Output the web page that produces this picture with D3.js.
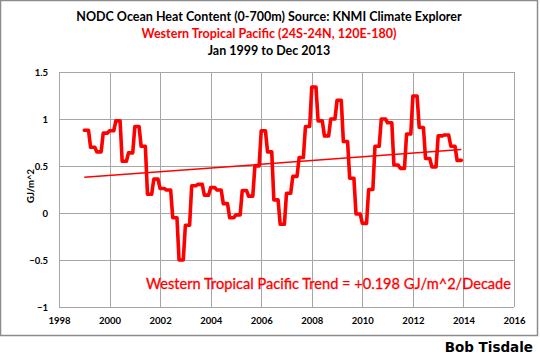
<!DOCTYPE html>
<html>
<head>
<meta charset="utf-8">
<script src="https://cdn.jsdelivr.net/npm/d3@7"></script>
<style>
  html, body { margin: 0; padding: 0; background: #fff; }
  svg { display: block; }
</style>
</head>
<body>
<svg id="chart" width="540" height="359"></svg>
<script>
// ---- Data (quarterly NODC OHC 0-700m, Western Tropical Pacific, GJ/m^2) ----
const years = [1999, 2000, 2001, 2002, 2003, 2004, 2005, 2006, 2007, 2008, 2009, 2010, 2011, 2012, 2013];
const quarterlyValues = [
  0.88, 0.70, 0.65, 0.85,
  0.875, 0.98, 0.55, 0.64,
  0.92, 0.71, 0.20, 0.36,
  0.26, 0.245, -0.05, -0.50,
  -0.13, 0.29, 0.305, 0.19,
  0.27, 0.245, 0.10, -0.05,
  -0.02, 0.24, 0.18, 0.50,
  0.875, 0.65, 0.14, -0.12,
  0.21, 0.39, 0.59, 0.92,
  1.34, 0.98, 0.82, 1.00,
  1.20, 0.76, 0.37, -0.01,
  -0.11, 0.25, 0.71, 1.00,
  0.96, 0.51, 0.475, 0.84,
  1.245, 0.91, 0.58, 0.49,
  0.82, 0.83, 0.71, 0.56
];
const trendDates = [1999.0, 2013 + 11 / 12];
const trendValues = [0.38, 0.675];
const xTicks = [1998, 2000, 2002, 2004, 2006, 2008, 2010, 2012, 2014, 2016];
const yTicks = [-1, -0.5, 0, 0.5, 1, 1.5];
const titleLines = [
  "NODC Ocean Heat Content (0-700m) Source: KNMI Climate Explorer",
  "Western Tropical Pacific (24S-24N, 120E-180)",
  "Jan 1999 to Dec 2013"
];
const trendLabel = "Western Tropical Pacific Trend = +0.198 GJ/m^2/Decade";
const yAxisTitle = "GJ/m^2";
const credit = "Bob Tisdale";

// Monthly series (KNMI monthly file repeats each quarterly value for its 3 months)
const monthly = [];
quarterlyValues.forEach((v, q) => {
  for (let k = 0; k < 3; k++) {
    const m = q * 3 + k;
    monthly.push({ date: years[0] + m / 12, value: v });
  }
});

const svg = d3.select("#chart");
const pLeft = 59, pRight = 514, pTop = 72, pBottom = 307;

const x = d3.scaleLinear().domain([1998, 2016]).range([pLeft, pRight]);
const y = d3.scaleLinear().domain([-1, 1.5]).range([pBottom, pTop]);

// outer chart border
svg.append("rect").attr("x", 0.5).attr("y", 0.5).attr("width", 537).attr("height", 335)
  .attr("fill", "#fff").attr("stroke", "#8c8c8c").attr("stroke-width", 1.5);

// gridlines
const grid = svg.append("g");
grid.selectAll("line.h").data(yTicks).join("line")
  .attr("x1", pLeft).attr("x2", pRight)
  .attr("y1", d => Math.round(y(d)) + 0.5).attr("y2", d => Math.round(y(d)) + 0.5)
  .attr("stroke", "#a6a6a6").attr("stroke-width", 1);
grid.selectAll("line.v").data(xTicks).join("line")
  .attr("y1", pTop).attr("y2", pBottom)
  .attr("x1", d => Math.round(x(d)) + 0.5).attr("x2", d => Math.round(x(d)) + 0.5)
  .attr("stroke", "#a6a6a6").attr("stroke-width", 1);

// axes (labels only)
const axisFont = "Lato, 'Open Sans', sans-serif";
const yAxis = svg.append("g").attr("transform", `translate(${pLeft},0)`)
  .call(d3.axisLeft(y).tickValues(yTicks).tickSize(0).tickPadding(11).tickFormat(d => d3.format("")(d)));
yAxis.select(".domain").remove();
yAxis.selectAll("text").attr("font-family", axisFont).attr("font-weight", "bold")
  .attr("font-size", "9.5px").attr("fill", "#000");

const xAxis = svg.append("g").attr("transform", `translate(0,${pBottom})`)
  .call(d3.axisBottom(x).tickValues(xTicks).tickSize(0).tickPadding(10).tickFormat(d3.format("d")));
xAxis.select(".domain").remove();
xAxis.selectAll("text").attr("font-family", axisFont).attr("font-weight", "bold")
  .attr("font-size", "9.5px").attr("fill", "#000");

// data line
const line = d3.line().x(d => x(d.date)).y(d => y(d.value));
svg.append("path").datum(monthly)
  .attr("d", line).attr("fill", "none").attr("stroke", "#ff0000")
  .attr("stroke-width", 3.6).attr("stroke-linejoin", "round").attr("stroke-linecap", "round");

// trend line
svg.append("path").datum(trendDates.map((d, i) => ({ date: d, value: trendValues[i] })))
  .attr("d", line).attr("fill", "none").attr("stroke", "#ff0000").attr("stroke-width", 1.5);

// titles
const titleFont = "Lato, 'Open Sans', sans-serif";
const tcol = ["#000", "#ff0000", "#000"];
const ty = [21, 38, 55];
titleLines.forEach((t, i) => {
  svg.append("text").attr("x", 269).attr("y", ty[i]).attr("text-anchor", "middle")
    .attr("font-family", titleFont).attr("font-weight", "bold").attr("font-size", "12.5px")
    .attr("fill", tcol[i]).text(t);
});

// y axis title
svg.append("text").attr("transform", `translate(34,186) rotate(-90)`)
  .attr("text-anchor", "middle").attr("font-family", titleFont).attr("font-weight", "bold")
  .attr("font-size", "9.5px").attr("fill", "#000").text(yAxisTitle);

// trend label
svg.append("text").attr("x", 511).attr("y", 289).attr("text-anchor", "end")
  .attr("font-family", titleFont).attr("font-size", "14.6px").attr("fill", "#ff0000")
  .attr("stroke", "#ff0000").attr("stroke-width", 0.3).text(trendLabel);

// credit
svg.append("text").attr("x", 533).attr("y", 352).attr("text-anchor", "end")
  .attr("font-family", "'DejaVu Sans', sans-serif").attr("font-weight", "bold")
  .attr("font-size", "13.5px").attr("fill", "#000").text(credit);
</script>
</body>
</html>
